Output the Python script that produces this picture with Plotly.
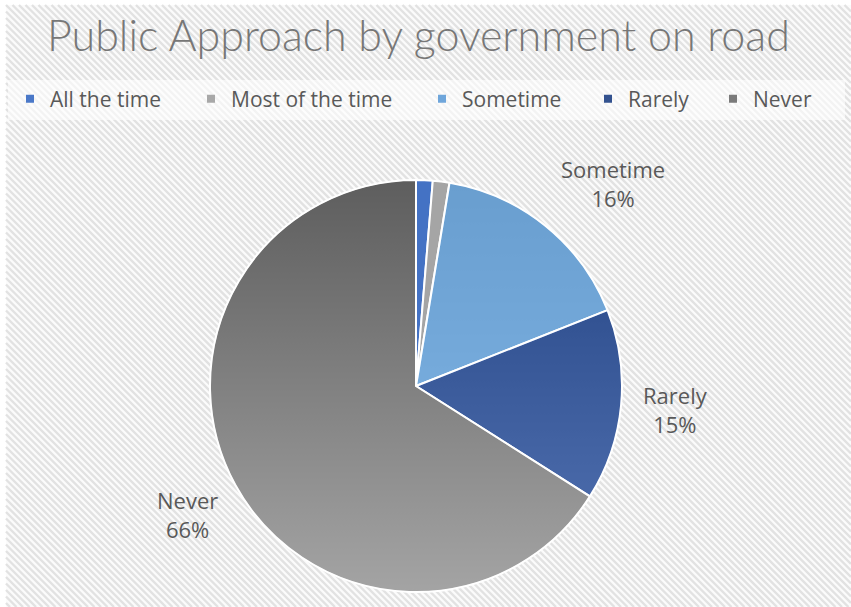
import base64
import plotly.graph_objects as go

# ---- data -------------------------------------------------------------
categories = ["All the time", "Most of the time", "Sometime", "Rarely", "Never"]
shares = [1.3, 1.3, 16.4, 15.0, 66.0]          # percent of respondents
labelled = ["Sometime", "Rarely", "Never"]      # slices that carry a data label

# ---- styling ----------------------------------------------------------
W, H = 851, 607
# slice fills are partly translucent so the shaded disc underneath gives
# them a top-to-bottom gradient
slice_colors = [
    "rgba(68,114,196,1)",
    "rgba(165,165,165,1)",
    "rgba(120,184,244,0.82)",
    "rgba(32,81,180,0.65)",
    "rgba(148,148,148,0.5)",
]
legend_colors = ["#4a78c8", "#a8a8a8", "#6fa6db", "#33528f", "#7a7a7a"]
text_grey = "#595959"
title_grey = "#777777"

# pie placement in pixels (centre x, centre y, radius)
PCX, PCY, PR = 416, 386, 206


def px(x):
    return x / W


def py(y):
    return 1 - y / H


def svg_uri(svg):
    return "data:image/svg+xml;base64," + base64.b64encode(svg.encode()).decode()


# diagonal hatch for the chart area
X0, Y0, X1, Y1 = 6, 5, W, H
step = 6.5
segs = []
c = (Y0 - X1) - step
while c < Y1 - X0 + step:
    xa = max(X0, Y0 - c)
    xb = min(X1, Y1 - c)
    if xa < xb:
        segs.append(f"M{xa:.2f},{xa + c:.2f}L{xb:.2f},{xb + c:.2f}")
    c += step
hatch_svg = (
    f"<svg xmlns='http://www.w3.org/2000/svg' width='{W}' height='{H}' viewBox='0 0 {W} {H}'>"
    f"<rect x='{X0}' y='{Y0}' width='{X1 - X0}' height='{Y1 - Y0}' fill='#fbfbfb'/>"
    f"<path d='{''.join(segs)}' stroke='#e2e2e2' stroke-width='2.4' fill='none'/>"
    "</svg>"
)

# shaded disc sitting under the pie
D = 2 * PR
disc_svg = (
    f"<svg xmlns='http://www.w3.org/2000/svg' width='{D}' height='{D}' viewBox='0 0 {D} {D}'>"
    "<defs><linearGradient id='g' x1='0' y1='0' x2='0' y2='1'>"
    "<stop offset='0' stop-color='#282828'/><stop offset='1' stop-color='#b4b4b4'/>"
    "</linearGradient></defs>"
    f"<circle cx='{PR}' cy='{PR}' r='{PR - 0.6}' fill='url(#g)'/>"
    "</svg>"
)

fig = go.Figure()

fig.add_trace(go.Pie(
    labels=categories,
    values=shares,
    sort=False,
    direction="clockwise",
    rotation=0,
    marker=dict(colors=slice_colors, line=dict(color="white", width=2)),
    textinfo="none",
    hoverinfo="label+percent",
    showlegend=False,
    domain=dict(x=[px(PCX - PR), px(PCX + PR)], y=[py(PCY + PR), py(PCY - PR)]),
))

# legend entries: one small legend per category so each can be spaced freely
legend_marker_x = [30, 211, 442, 608, 733]
legend_y = 99
for i, (name, col) in enumerate(zip(categories, legend_colors)):
    key = "legend" if i == 0 else f"legend{i + 1}"
    fig.add_trace(go.Scatter(
        x=[None], y=[None], mode="markers", name=name,
        marker=dict(symbol="square", size=8, color=col),
        legend=key, showlegend=True, hoverinfo="skip",
    ))
    fig.layout[key] = dict(
        x=px(legend_marker_x[i] - 20), xanchor="left",
        y=py(legend_y), yanchor="middle",
        orientation="h", bgcolor="rgba(0,0,0,0)", borderwidth=0,
        font=dict(family="Open Sans", size=21, color=text_grey),
        itemclick=False, itemdoubleclick=False,
    )

# data labels for the larger slices
total = sum(shares)
label_pos = {"Sometime": (613, 184), "Rarely": (675, 409), "Never": (187, 514)}
annotations = []
for name, v in zip(categories, shares):
    if name not in labelled:
        continue
    lx, ly = label_pos[name]
    annotations.append(dict(
        x=px(lx), y=py(ly), xref="paper", yref="paper",
        text=f"{name}<br>{round(v / total * 100)}%",
        showarrow=False, align="center",
        font=dict(family="Open Sans", size=22, color=text_grey),
        xanchor="center", yanchor="middle",
    ))

annotations.append(dict(
    x=px(418), y=py(34), xref="paper", yref="paper",
    text="Public Approach by government on road",
    showarrow=False, xanchor="center", yanchor="middle",
    font=dict(family="Lato", size=43, color=title_grey, weight=300),
))

images = [
    dict(source=svg_uri(hatch_svg), xref="paper", yref="paper", x=0, y=1,
         sizex=1, sizey=1, xanchor="left", yanchor="top", sizing="stretch", layer="below"),
    dict(source=svg_uri(disc_svg), xref="paper", yref="paper",
         x=px(PCX - PR), y=py(PCY - PR), sizex=D / W, sizey=D / H,
         xanchor="left", yanchor="top", sizing="stretch", layer="below"),
]

shapes = [
    dict(type="rect", xref="paper", yref="paper", x0=px(8), x1=px(845), y0=py(120), y1=py(80),
         fillcolor="rgba(255,255,255,0.6)", line=dict(width=0), layer="below"),
]

fig.update_layout(
    width=W, height=H,
    margin=dict(l=0, r=0, t=0, b=0),
    paper_bgcolor="white", plot_bgcolor="rgba(0,0,0,0)",
    xaxis=dict(visible=False), yaxis=dict(visible=False),
    annotations=annotations, shapes=shapes, images=images,
    showlegend=True,
)

fig.write_html("out.html")
